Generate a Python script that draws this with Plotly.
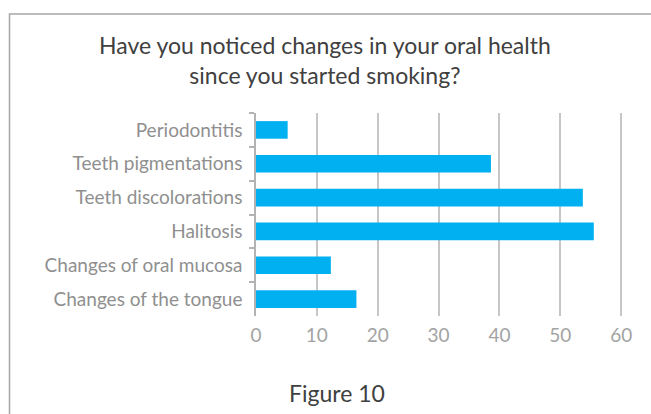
import plotly.graph_objects as go

# Survey answers (percent of respondents)
categories = [
    "Periodontitis",
    "Teeth pigmentations",
    "Teeth discolorations",
    "Halitosis",
    "Changes of oral mucosa",
    "Changes of the tongue",
]
values = [5.2, 38.6, 53.7, 55.5, 12.3, 16.5]
x_ticks = [0, 10, 20, 30, 40, 50, 60]

W, H = 651, 414
L, R, T, B = 256, 28, 113, 98
pw, ph = W - L - R, H - T - B


def px_x(p):
    return (p - L) / pw


def px_y(p):
    return (H - B - p) / ph


FONT = "Lato, Open Sans, sans-serif"

fig = go.Figure(
    go.Bar(
        x=values,
        y=categories,
        orientation="h",
        marker=dict(color="#00b0f0", line=dict(width=0)),
        hoverinfo="x+y",
    )
)

fig.update_layout(
    width=W,
    height=H,
    margin=dict(l=L, r=R, t=T, b=B, pad=0),
    paper_bgcolor="white",
    plot_bgcolor="white",
    bargap=0.48,
    showlegend=False,
    font=dict(family=FONT),
    xaxis=dict(
        range=[0, 60.3],
        tickvals=x_ticks,
        ticktext=[str(v) for v in x_ticks],
        showgrid=True,
        gridcolor="#c6c6c6",
        gridwidth=1.5,
        zeroline=False,
        showline=False,
        ticks="",
        tickfont=dict(size=19, color="#a3a3a3", family=FONT),
        ticklabelstandoff=6,
        fixedrange=True,
    ),
    yaxis=dict(
        categoryorder="array",
        categoryarray=categories,
        autorange="reversed",
        showline=True,
        linecolor="#b3b3b3",
        linewidth=1.5,
        ticks="outside",
        tickson="boundaries",
        ticklen=5,
        tickcolor="#b3b3b3",
        tickwidth=1.5,
        showgrid=False,
        tickfont=dict(size=19, color="#8f8f8f", family=FONT),
        ticklabelstandoff=8,
        fixedrange=True,
    ),
    shapes=[
        dict(
            type="rect",
            xref="paper",
            yref="paper",
            x0=px_x(9.5),
            x1=px_x(W + 10),
            y0=px_y(H + 10),
            y1=px_y(14),
            line=dict(color="#a6a6a6", width=1.5),
            fillcolor="rgba(0,0,0,0)",
            layer="below",
        )
    ],
    annotations=[
        dict(
            text="Have you noticed changes in your oral health<br>since you started smoking?",
            xref="paper",
            yref="paper",
            x=px_x(325),
            y=px_y(60),
            xanchor="center",
            yanchor="middle",
            showarrow=False,
            font=dict(size=23, color="#404040", family=FONT),
            align="center",
        ),
        dict(
            text="Figure 10",
            xref="paper",
            yref="paper",
            x=px_x(337),
            y=px_y(393),
            xanchor="center",
            yanchor="middle",
            showarrow=False,
            font=dict(size=23, color="#404040", family=FONT),
        ),
    ],
)

fig.write_html("out.html")
